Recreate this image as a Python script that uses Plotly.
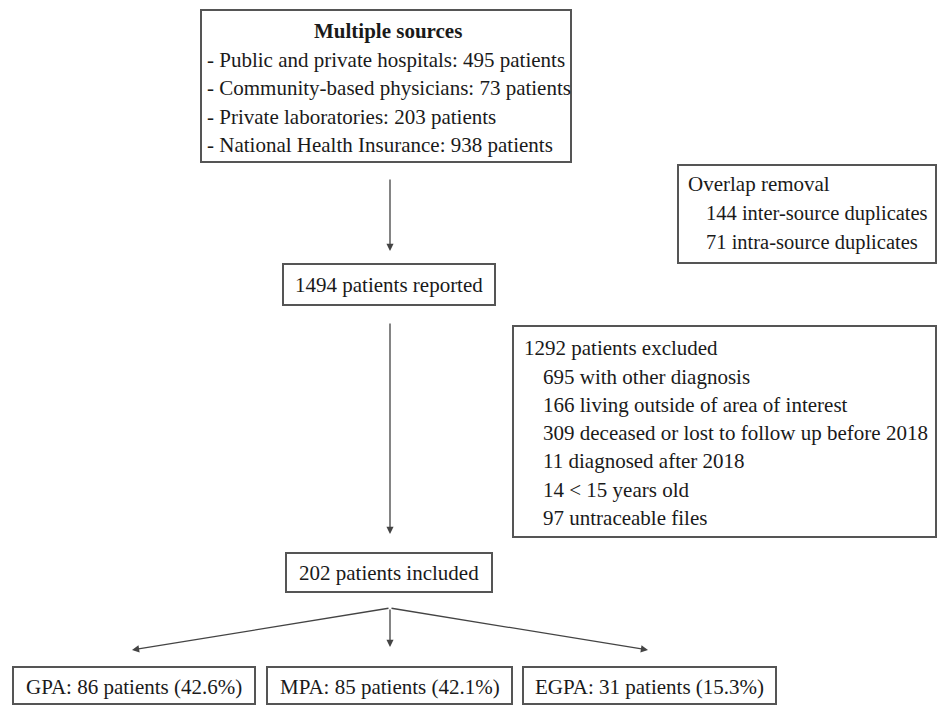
import plotly.graph_objects as go

# ---- data ----
source_title = "Multiple sources"
source_names = ["Public and private hospitals", "Community-based physicians",
                "Private laboratories", "National Health Insurance"]
source_counts = [495, 73, 203, 938]

overlap_title = "Overlap removal"
overlap_labels = ["inter-source duplicates", "intra-source duplicates"]
overlap_counts = [144, 71]

reported_total = 1494

excluded_total = 1292
exclusion_labels = ["with other diagnosis", "living outside of area of interest",
                    "deceased or lost to follow up before 2018", "diagnosed after 2018",
                    "< 15 years old", "untraceable files"]
exclusion_counts = [695, 166, 309, 11, 14, 97]

included_total = 202
groups = ["GPA", "MPA", "EGPA"]
group_counts = [86, 85, 31]
group_pct = [42.6, 42.1, 15.3]

# ---- styling ----
FONT = "Liberation Serif, Times New Roman, serif"
FS = 21
TXT = "#1a1a1a"
BORDER = "#555555"
ARROW = "#444444"

fig = go.Figure()
shapes = []
annotations = []


def box(x0, y0, x1, y1):
    shapes.append(dict(type="rect", xref="x", yref="y", x0=x0, y0=y0, x1=x1, y1=y1,
                       line=dict(color=BORDER, width=2), fillcolor="white", layer="below"))


def text(x, y, s, anchor="left", bold=False, size=FS):
    if bold:
        s = "<b>" + s + "</b>"
    annotations.append(dict(x=x, y=y, xref="x", yref="y", text=s, showarrow=False,
                            xanchor=anchor, yanchor="middle",
                            font=dict(family=FONT, size=size, color=TXT)))


def arrow(x0, y0, x1, y1):
    annotations.append(dict(x=x1, y=y1, ax=x0, ay=y0, xref="x", yref="y",
                            axref="x", ayref="y", text="", showarrow=True,
                            arrowhead=2, arrowsize=1.1, arrowwidth=1.3,
                            arrowcolor=ARROW, standoff=0, startstandoff=0))


# top box: sources
box(201, 10, 571, 162)
text(388, 31, source_title, anchor="center", bold=True)
for i, (n, c) in enumerate(zip(source_names, source_counts)):
    text(205, 60 + i * 28.3, f"- {n}: {c} patients")

# overlap box
box(678, 165, 936, 263)
text(686, 184, overlap_title)
for i, (l, c) in enumerate(zip(overlap_labels, overlap_counts)):
    text(704, 213 + i * 29, f"{c} {l}", size=20.5)

# reported
arrow(390, 178, 390, 251)
box(283, 264, 495, 305)
text(389, 285, f"{reported_total} patients reported", anchor="center")

# exclusion box
box(513, 326, 936, 537)
text(522, 348, f"{excluded_total} patients excluded")
for i, (l, c) in enumerate(zip(exclusion_labels, exclusion_counts)):
    text(541, 376.5 + i * 28.3, f"{c} {l}")

# included
arrow(390, 322, 390, 534)
box(286, 553, 492, 592)
text(389, 573, f"{included_total} patients included", anchor="center")

# branches
branch_tips = [(132, 650), (390, 647), (648, 650)]
for tx, ty in branch_tips:
    arrow(390, 608, tx, ty)

group_boxes = [(13, 255), (267, 512), (523, 776)]
for (x0, x1), g, c, p in zip(group_boxes, groups, group_counts, group_pct):
    box(x0, 667, x1, 704)
    text((x0 + x1) / 2, 687, f"{g}: {c} patients ({p}%)", anchor="center")

fig.update_layout(
    width=940, height=706,
    margin=dict(l=0, r=0, t=0, b=0),
    paper_bgcolor="white", plot_bgcolor="white",
    xaxis=dict(range=[0, 940], visible=False, fixedrange=True),
    yaxis=dict(range=[706, 0], visible=False, fixedrange=True),
    shapes=shapes, annotations=annotations, showlegend=False,
)

fig.write_html(
    "out.html",
    config={"displayModeBar": False},
    post_script="document.body.style.margin='0';document.body.style.overflow='hidden';",
)
